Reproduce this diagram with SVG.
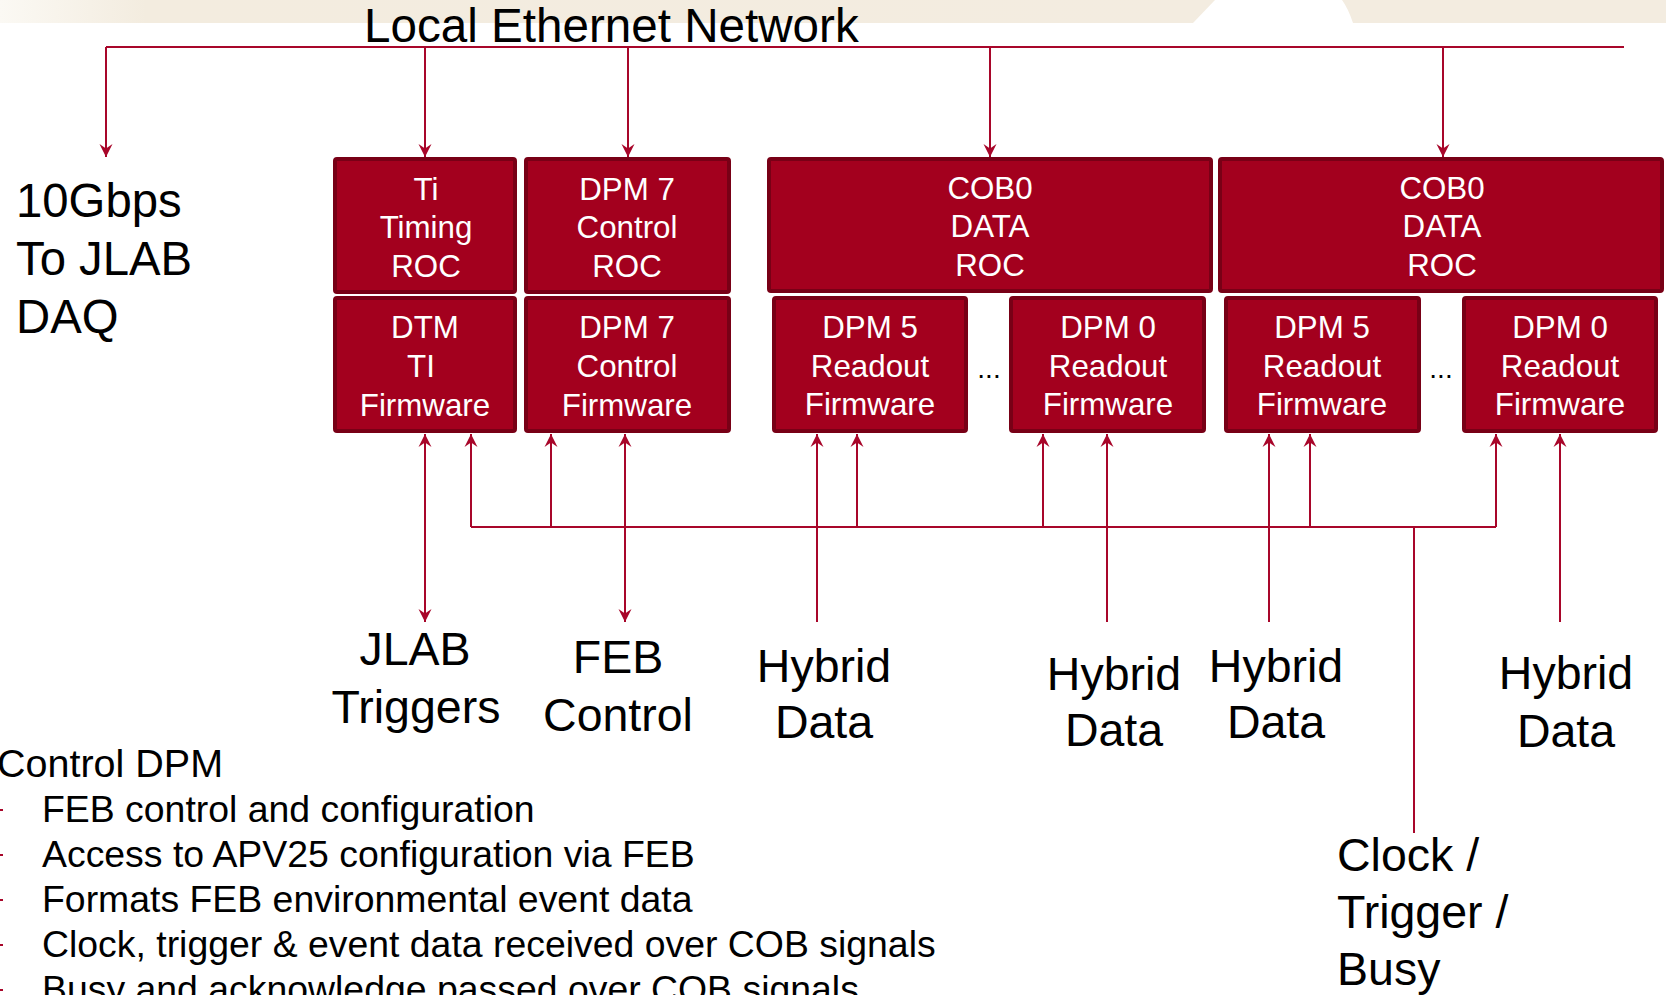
<svg xmlns="http://www.w3.org/2000/svg" width="1666" height="995" viewBox="0 0 1666 995">
  <style>
    .box { fill: #a3001e; stroke: #780016; stroke-width: 4; }
    .bt { font-family: "Liberation Sans", Arial, sans-serif; font-size: 31.3px; fill: #ffffff; text-anchor: middle; }
    .lbl { font-family: "Liberation Sans", Arial, sans-serif; font-size: 46.5px; fill: #000000; }
    .mid { text-anchor: middle; }
    .list { font-family: "Liberation Sans", Arial, sans-serif; font-size: 37.4px; fill: #000000; }
    .wire { fill: none; stroke: #a8062a; stroke-width: 2; }
    .arr-end { marker-end: url(#head); }
    .arr-both { marker-start: url(#head); marker-end: url(#head); }
  </style>
  <defs>
    <linearGradient id="band" x1="0" y1="0" x2="1" y2="0">
      <stop offset="0" stop-color="#fbf9f4"/>
      <stop offset="0.12" stop-color="#f3ecdf"/>
      <stop offset="1" stop-color="#f3ece0"/>
    </linearGradient>
    <marker id="head" viewBox="-14 -7 15 14" refX="0" refY="0" markerWidth="15" markerHeight="14" markerUnits="userSpaceOnUse" orient="auto-start-reverse">
      <path d="M0,0 L-13,-6.5 L-8.5,0 L-13,6.5 Z" fill="#a8062a"/>
    </marker>
  </defs>

  <!-- page header band with tab notch -->
  <path d="M0,0 H1215 L1193,23 H0 Z" fill="url(#band)"/>
  <path d="M1342,0 H1666 V23 H1353 Q1348,8 1342,0 Z" fill="#f3ece0"/>

  <text class="lbl" x="364" y="42" style="font-size:47.6px">Local Ethernet Network</text>

  <!-- connectors -->
  <g id="connectors">
    <!-- Ethernet bus -->
    <path class="wire" d="M106,47 H1624"/>
    <path class="wire arr-end" d="M106,47 V157"/>
    <path class="wire arr-end" d="M425,47 V157"/>
    <path class="wire arr-end" d="M628,47 V157"/>
    <path class="wire arr-end" d="M990,47 V157"/>
    <path class="wire arr-end" d="M1443,47 V157"/>

    <!-- clock / trigger / busy bus -->
    <path class="wire" d="M471,527 H1496"/>
    <path class="wire" d="M1414,527 V833"/>
    <path class="wire arr-end" d="M471,527 V434"/>
    <path class="wire arr-end" d="M551,527 V434"/>
    <path class="wire arr-end" d="M857,527 V434"/>
    <path class="wire arr-end" d="M1043,527 V434"/>
    <path class="wire arr-end" d="M1310,527 V434"/>
    <path class="wire arr-end" d="M1496,527 V434"/>

    <!-- JLAB triggers and FEB control (bidirectional) -->
    <path class="wire arr-both" d="M425,434 V622"/>
    <path class="wire arr-both" d="M625,434 V622"/>

    <!-- hybrid data inputs -->
    <path class="wire arr-end" d="M817,622 V434"/>
    <path class="wire arr-end" d="M1107,622 V434"/>
    <path class="wire arr-end" d="M1269,622 V434"/>
    <path class="wire arr-end" d="M1560,622 V434"/>
  </g>

  <!-- nodes -->
  <g id="ti-roc">
    <rect class="box" x="335" y="159" width="180" height="133" rx="2"/>
    <text class="bt" x="426" y="200">Ti</text>
    <text class="bt" x="426" y="238">Timing</text>
    <text class="bt" x="426" y="277">ROC</text>
  </g>
  <g id="dpm7-roc">
    <rect class="box" x="526" y="159" width="203" height="133" rx="2"/>
    <text class="bt" x="627" y="200">DPM 7</text>
    <text class="bt" x="627" y="238">Control</text>
    <text class="bt" x="627" y="277">ROC</text>
  </g>
  <g id="dtm-fw">
    <rect class="box" x="335" y="298" width="180" height="133" rx="2"/>
    <text class="bt" x="425" y="338">DTM</text>
    <text class="bt" x="421" y="377">TI</text>
    <text class="bt" x="425" y="416">Firmware</text>
  </g>
  <g id="dpm7-fw">
    <rect class="box" x="526" y="298" width="203" height="133" rx="2"/>
    <text class="bt" x="627" y="338">DPM 7</text>
    <text class="bt" x="627" y="377">Control</text>
    <text class="bt" x="627" y="416">Firmware</text>
  </g>

  <g id="cob0-roc-a">
    <rect class="box" x="769" y="159" width="442" height="132" rx="2"/>
    <text class="bt" x="990" y="199">COB0</text>
    <text class="bt" x="990" y="237">DATA</text>
    <text class="bt" x="990" y="276">ROC</text>
  </g>
  <g id="dpm5-fw-a">
    <rect class="box" x="774" y="298" width="192" height="133" rx="2"/>
    <text class="bt" x="870" y="338">DPM 5</text>
    <text class="bt" x="870" y="377">Readout</text>
    <text class="bt" x="870" y="415">Firmware</text>
  </g>
  <g id="dpm0-fw-a">
    <rect class="box" x="1011" y="298" width="193" height="133" rx="2"/>
    <text class="bt" x="1108" y="338">DPM 0</text>
    <text class="bt" x="1108" y="377">Readout</text>
    <text class="bt" x="1108" y="415">Firmware</text>
  </g>
  <text class="bt" x="989" y="378" style="fill:#000000;font-size:28px">...</text>

  <g id="cob0-roc-b">
    <rect class="box" x="1220" y="159" width="442" height="132" rx="2"/>
    <text class="bt" x="1442" y="199">COB0</text>
    <text class="bt" x="1442" y="237">DATA</text>
    <text class="bt" x="1442" y="276">ROC</text>
  </g>
  <g id="dpm5-fw-b">
    <rect class="box" x="1226" y="298" width="193" height="133" rx="2"/>
    <text class="bt" x="1322" y="338">DPM 5</text>
    <text class="bt" x="1322" y="377">Readout</text>
    <text class="bt" x="1322" y="415">Firmware</text>
  </g>
  <g id="dpm0-fw-b">
    <rect class="box" x="1464" y="298" width="192" height="133" rx="2"/>
    <text class="bt" x="1560" y="338">DPM 0</text>
    <text class="bt" x="1560" y="377">Readout</text>
    <text class="bt" x="1560" y="415">Firmware</text>
  </g>
  <text class="bt" x="1441" y="378" style="fill:#000000;font-size:28px">...</text>

  <!-- external endpoints -->
  <g id="jlab-daq" style="font-size:47.3px">
    <text class="lbl" x="16" y="217" style="font-size:47.3px">10Gbps</text>
    <text class="lbl" x="16" y="275" style="font-size:47.3px">To JLAB</text>
    <text class="lbl" x="16" y="333" style="font-size:47.3px">DAQ</text>
  </g>
  <g id="jlab-triggers">
    <text class="lbl mid" x="415" y="665">JLAB</text>
    <text class="lbl mid" x="416" y="723">Triggers</text>
  </g>
  <g id="feb-control">
    <text class="lbl mid" x="618" y="673">FEB</text>
    <text class="lbl mid" x="618" y="731">Control</text>
  </g>
  <g id="hybrid-1">
    <text class="lbl mid" x="824" y="682">Hybrid</text>
    <text class="lbl mid" x="824" y="738">Data</text>
  </g>
  <g id="hybrid-2">
    <text class="lbl mid" x="1114" y="690">Hybrid</text>
    <text class="lbl mid" x="1114" y="746">Data</text>
  </g>
  <g id="hybrid-3">
    <text class="lbl mid" x="1276" y="682">Hybrid</text>
    <text class="lbl mid" x="1276" y="738">Data</text>
  </g>
  <g id="hybrid-4">
    <text class="lbl mid" x="1566" y="689">Hybrid</text>
    <text class="lbl mid" x="1566" y="747">Data</text>
  </g>
  <g id="clock-trigger-busy">
    <text class="lbl" x="1337" y="871">Clock /</text>
    <text class="lbl" x="1337" y="928">Trigger /</text>
    <text class="lbl" x="1337" y="985">Busy</text>
  </g>

  <!-- notes -->
  <g id="notes">
    <text class="list" x="-3" y="777" style="font-size:39.5px">Control DPM</text>
    <g fill="#a8062a">
      <rect x="0" y="809" width="3" height="2"/>
      <rect x="0" y="854" width="3" height="2"/>
      <rect x="0" y="899" width="3" height="2"/>
      <rect x="0" y="944" width="3" height="2"/>
      <rect x="0" y="989" width="3" height="2"/>
    </g>
    <text class="list" x="42" y="822">FEB control and configuration</text>
    <text class="list" x="42" y="867">Access to APV25 configuration via FEB</text>
    <text class="list" x="42" y="912">Formats FEB environmental event data</text>
    <text class="list" x="42" y="957">Clock, trigger &amp; event data received over COB signals</text>
    <text class="list" x="42" y="1002">Busy and acknowledge passed over COB signals</text>
  </g>
</svg>
